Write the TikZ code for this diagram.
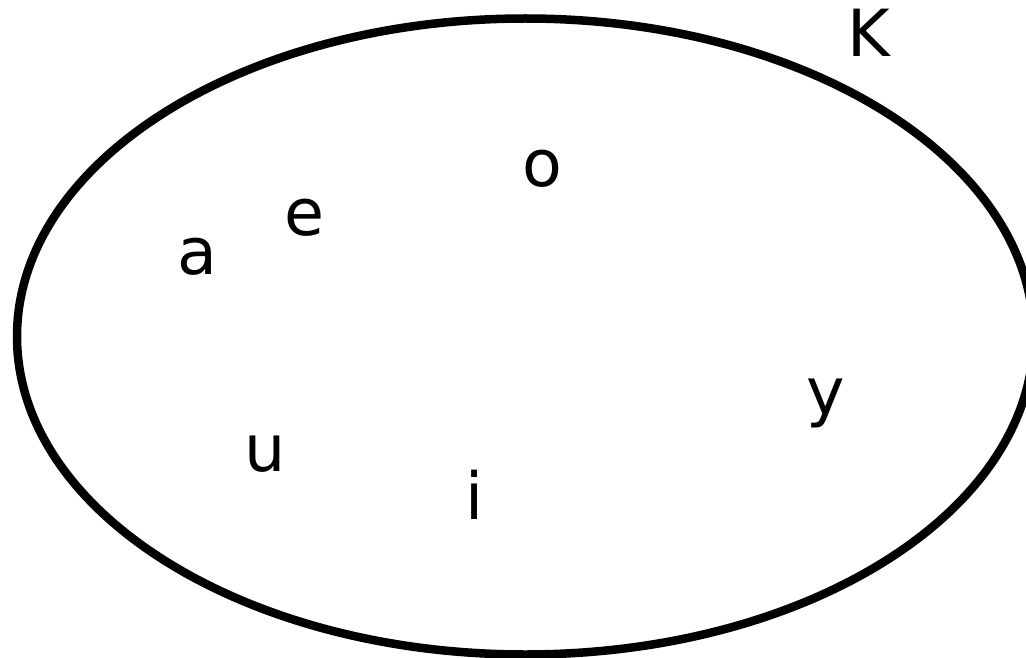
\documentclass[tikz,border=0pt]{standalone}
\usepackage{fontspec}
\setmainfont{DejaVu Sans}
\begin{document}
\begin{tikzpicture}[x=1pt,y=-1pt,
  lbl/.style={anchor=base,inner sep=0pt,font=\fontsize{65}{78}\selectfont}]
\useasboundingbox (0,0) rectangle (1026,658);
\begin{scope}
\clip (0,0) rectangle (1026,658);
\draw[line width=8.5pt] (525.3,336.5) ellipse [x radius=508.3, y radius=318];
\end{scope}
\node[lbl] (K) at (869,57) {K};
\node[lbl] (o) at (542,186.5) {o};
\node[lbl] (e) at (304,236) {e};
\node[lbl] (a) at (197.5,274) {a};
\node[lbl] (y) at (826,414) {y};
\node[lbl] (u) at (265,471) {u};
\node[lbl] (i) at (475,519) {i};
\end{tikzpicture}
\end{document}
